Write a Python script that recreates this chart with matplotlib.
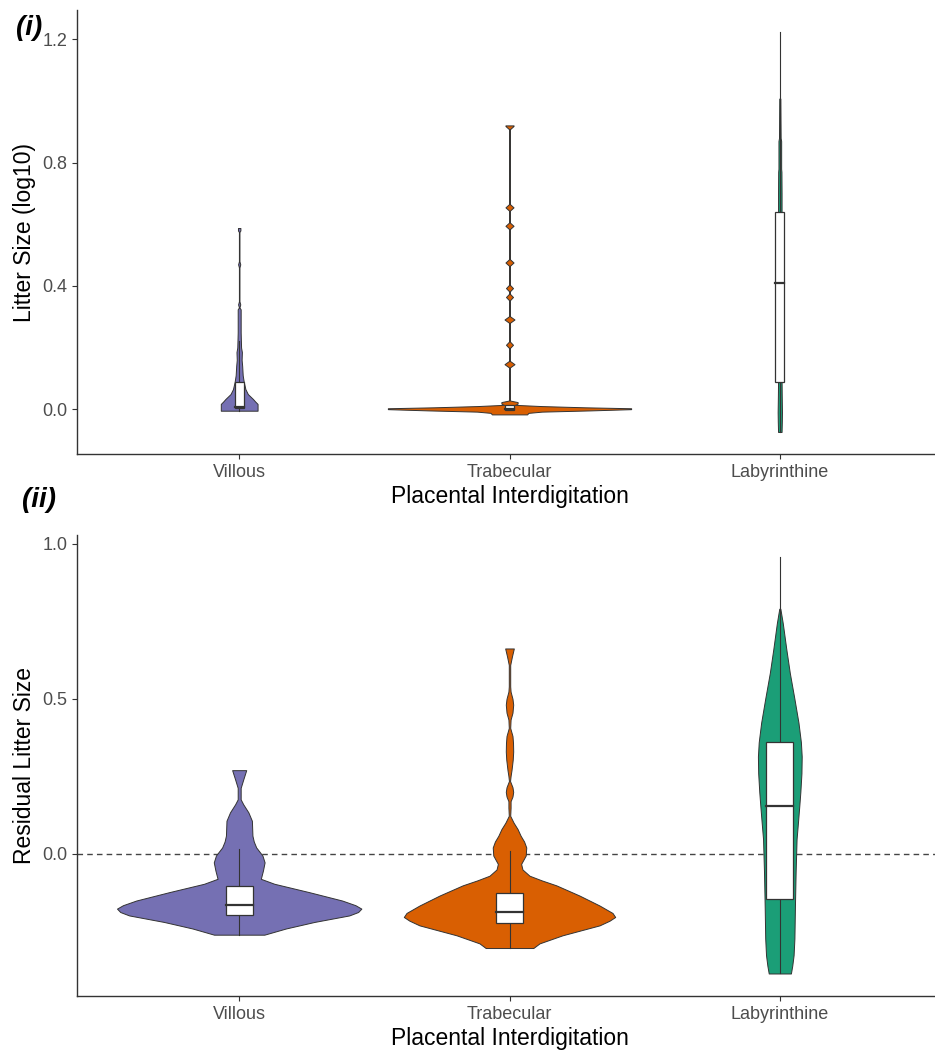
import numpy as np
import matplotlib
matplotlib.use("Agg")
from matplotlib import pyplot as plt

plt.rcParams['font.family'] = ['Liberation Sans', 'DejaVu Sans']

categories = ['Villous', 'Trabecular', 'Labyrinthine']
colors = ['#7570B3', '#D95F02', '#1B9E77']

# ---- panel (i): litter size (log10) ----
# violin outlines: value, half-width (in category units)
lit_vil_y = [-0.005, 0.017, 0.025, 0.033, 0.049, 0.065, 0.088, 0.11, 0.141, 0.16, 0.185,
             0.20, 0.249, 0.324, 0.33, 0.34, 0.35, 0.46, 0.47, 0.48, 0.575, 0.58, 0.588]
lit_vil_w = [0.068, 0.068, 0.059, 0.051, 0.032, 0.023, 0.017, 0.013, 0.011, 0.009, 0.010,
             0.007, 0.0055, 0.0055, 0.001, 0.004, 0.001, 0.001, 0.004, 0.001, 0.001, 0.0045, 0.0045]

lit_tra_y = [-0.017, -0.012, -0.008, -0.004, 0.0, 0.003, 0.006, 0.010, 0.014, 0.018, 0.023, 0.028,
             0.135, 0.146, 0.157, 0.198, 0.209, 0.220, 0.280, 0.291, 0.302, 0.353, 0.364, 0.375,
             0.382, 0.393, 0.404, 0.465, 0.476, 0.487, 0.584, 0.595, 0.606, 0.644, 0.655, 0.666,
             0.908, 0.919, 0.921]
lit_tra_w = [0.065, 0.07, 0.12, 0.30, 0.45, 0.45, 0.28, 0.12, 0.02, 0.03, 0.03, 0.002,
             0.001, 0.0185, 0.001, 0.001, 0.013, 0.001, 0.001, 0.0185, 0.001, 0.001, 0.013, 0.001,
             0.001, 0.013, 0.001, 0.001, 0.015, 0.001, 0.001, 0.015, 0.001, 0.001, 0.015, 0.001,
             0.001, 0.015, 0.015]

lit_lab_y = [-0.074, -0.04, -0.01, 0.02, 0.05, 0.10, 0.64, 0.70, 0.77, 0.78, 0.87, 0.88, 1.008]
lit_lab_w = [0.0065, 0.0075, 0.008, 0.0075, 0.007, 0.0065, 0.0065, 0.0065, 0.006, 0.005, 0.005, 0.003, 0.002]

# boxplot stats: whisker low, q1, median, q3, whisker high
lit_box = [
    [-0.005, 0.004, 0.006, 0.089, 0.22],
    [-0.002, -0.002, 0.0, 0.012, 0.012],
    [-0.074, 0.087, 0.410, 0.640, 1.224],
]

# ---- panel (ii): residual litter size ----
res_vil_y = [-0.260, -0.240, -0.219, -0.198, -0.187, -0.176, -0.165, -0.150, -0.123, -0.096,
             -0.080, -0.053, -0.027, -0.005, 0.021, 0.040, 0.059, 0.107, 0.134, 0.160, 0.176,
             0.213, 0.240, 0.270]
res_vil_w = [0.093, 0.173, 0.278, 0.407, 0.44, 0.452, 0.43, 0.381, 0.259, 0.13,
             0.080, 0.088, 0.094, 0.086, 0.063, 0.054, 0.049, 0.047, 0.034, 0.015, 0.0055,
             0.0055, 0.015, 0.026]

res_tra_y = [-0.303, -0.288, -0.262, -0.230, -0.215, -0.203, -0.190, -0.166, -0.134, -0.101,
             -0.085, -0.070, -0.050, -0.032, -0.005, 0.021, 0.040, 0.059, 0.080, 0.101, 0.123,
             0.149, 0.170, 0.185, 0.200, 0.215, 0.235, 0.251, 0.270, 0.304, 0.330, 0.358, 0.380,
             0.406, 0.433, 0.455, 0.481, 0.500, 0.523, 0.540, 0.609, 0.636, 0.662]
res_tra_w = [0.088, 0.111, 0.196, 0.333, 0.370, 0.391, 0.381, 0.333, 0.259, 0.173,
             0.119, 0.074, 0.048, 0.043, 0.060, 0.062, 0.054, 0.041, 0.030, 0.015, 0.0026,
             0.004, 0.004, 0.011, 0.0137, 0.011, 0.002, 0.004, 0.0074, 0.012, 0.0137, 0.013, 0.011,
             0.0026, 0.004, 0.011, 0.0137, 0.011, 0.004, 0.0026, 0.0026, 0.009, 0.016]

res_lab_y = [-0.385, -0.360, -0.326, -0.272, -0.166, -0.058, 0.048, 0.100, 0.154, 0.200,
             0.260, 0.314, 0.360, 0.423, 0.500, 0.583, 0.660, 0.743, 0.790]
res_lab_w = [0.041, 0.046, 0.051, 0.054, 0.056, 0.0585, 0.062, 0.067, 0.072, 0.076,
             0.080, 0.081, 0.078, 0.069, 0.054, 0.037, 0.024, 0.011, 0.002]

res_box = [
    [-0.260, -0.196, -0.163, -0.104, 0.016],
    [-0.303, -0.222, -0.187, -0.127, 0.011],
    [-0.385, -0.144, 0.155, 0.361, 0.958],
]

edge = '#333333'


def draw_violins(ax, profiles, boxes, box_w):
    for i, ((ys, ws), stats) in enumerate(zip(profiles, boxes)):
        pos = i + 1
        ys = np.asarray(ys)
        ws = np.asarray(ws)
        ax.fill_betweenx(ys, pos - ws, pos + ws, facecolor=colors[i],
                         edgecolor=edge, linewidth=0.7, zorder=2)
        lo, q1, med, q3, hi = stats
        ax.plot([pos, pos], [lo, q1], color=edge, lw=0.8, zorder=3)
        ax.plot([pos, pos], [q3, hi], color=edge, lw=0.8, zorder=3)
        ax.add_patch(plt.Rectangle((pos - box_w / 2, q1), box_w, q3 - q1,
                                   facecolor='white', edgecolor=edge, lw=0.9, zorder=4))
        ax.plot([pos - box_w / 2, pos + box_w / 2], [med, med], color=edge, lw=1.6, zorder=5)


def style_axes(ax, yticks, ylabel):
    ax.set_xlim(0.4, 3.6)
    ax.set_xticks([1, 2, 3])
    ax.set_xticklabels(categories)
    ax.set_yticks(yticks)
    ax.set_yticklabels([f'{t:.1f}' for t in yticks])
    for s in ['top', 'right']:
        ax.spines[s].set_visible(False)
    for s in ['left', 'bottom']:
        ax.spines[s].set_color(edge)
        ax.spines[s].set_linewidth(1.0)
    ax.tick_params(axis='both', length=3.6, width=0.8, color=edge,
                   labelcolor='#4D4D4D', labelsize=13, pad=3.5)
    ax.set_xlabel('Placental Interdigitation', fontsize=16.5, color='black', labelpad=3)
    ax.set_ylabel(ylabel, fontsize=16.5, color='black', labelpad=4)


fig = plt.figure(figsize=(9.35, 10.55), dpi=100)

ax1 = fig.add_axes([77 / 935, 1 - 454 / 1055, 865 / 935, 444 / 1055])
draw_violins(ax1, [(lit_vil_y, lit_vil_w), (lit_tra_y, lit_tra_w), (lit_lab_y, lit_lab_w)],
             lit_box, 0.032)
ax1.set_ylim(-0.1455, 1.2955)
style_axes(ax1, [0.0, 0.4, 0.8, 1.2], 'Litter Size (log10)')

ax2 = fig.add_axes([77 / 935, 1 - 996 / 1055, 865 / 935, 461 / 1055])
ax2.axhline(0, color='#444444', lw=1.0, linestyle=(0, (4, 3)), zorder=1)
draw_violins(ax2, [(res_vil_y, res_vil_w), (res_tra_y, res_tra_w), (res_lab_y, res_lab_w)],
             res_box, 0.1)
ax2.set_ylim(-0.4575, 1.0275)
style_axes(ax2, [0.0, 0.5, 1.0], 'Residual Litter Size')

fig.text(16 / 935, 1 - 28 / 1055, '(i)', fontsize=20, fontweight='bold', style='italic',
         ha='left', va='center')
fig.text(22 / 935, 1 - 500 / 1055, '(ii)', fontsize=20, fontweight='bold', style='italic',
         ha='left', va='center')

fig.savefig('out.png', dpi=100)
